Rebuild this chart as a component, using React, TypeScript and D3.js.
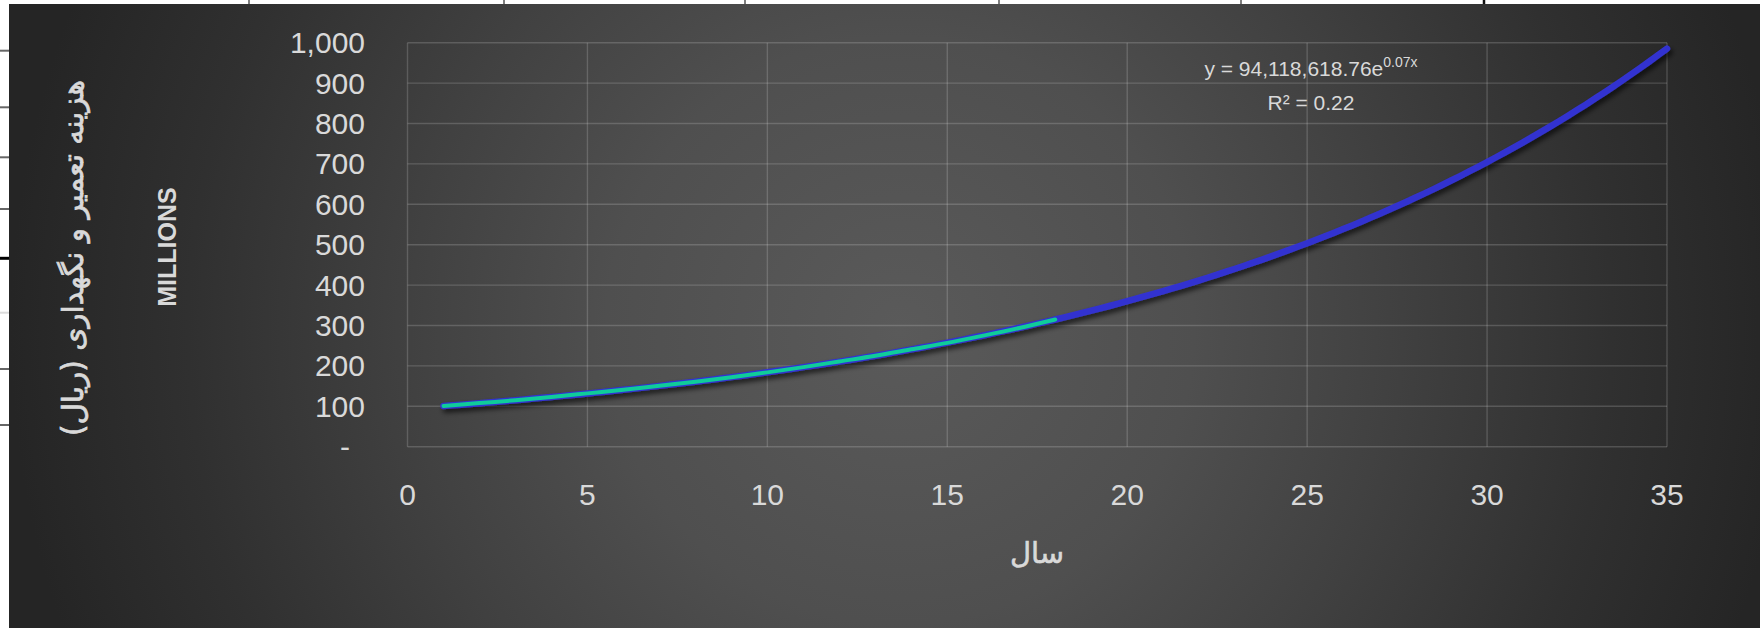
import React from "react";
import * as d3 from "d3";

// Annual repair & maintenance cost (million rials) for years 1–18
const years = [1, 2, 3, 4, 5, 6, 7, 8, 9, 10, 11, 12, 13, 14, 15, 16, 17, 18];
const repairCost = [101, 108, 115, 123, 132, 141, 151, 161, 172, 184, 197, 211, 225, 241, 257, 275, 294, 315];

// Exponential trendline y = A·e^(B·x), A in rials
const trendA = 94118618.76;
const trendB = 0.0671;
const trendR2 = 0.22;
const trendSpan = [1, 35];

const xTicks = [0, 5, 10, 15, 20, 25, 30, 35];
const yTicks = [0, 100, 200, 300, 400, 500, 600, 700, 800, 900, 1000];

const yTitle = "هزینه تعمیر و نگهداری (ریال)";
const unitLabel = "MILLIONS";
const xTitle = "سال";

const W = 1760;
const H = 628;
const frame = { x: 9, y: 4 };
const plot = { left: 407.5, right: 1667, top: 42.7, bottom: 446.7 };

// worksheet cell borders peeking out around the chart frame
const sheetCols = [249, 504, 745, 999, 1241, 1484];
const sheetRows = [50.7, 107.3, 157.3, 209, 258.3, 312.7, 369, 425];

const TEXT = "#d9d9d9";
const FONT = "'Liberation Sans', Arial, sans-serif";
const FA_FONT = "'DejaVu Sans', 'Liberation Sans', sans-serif";

export default function App() {
  const x = d3.scaleLinear().domain([0, 35]).range([plot.left, plot.right]);
  const y = d3.scaleLinear().domain([0, 1000]).range([plot.bottom, plot.top]);

  const trendPts: [number, number][] = d3
    .range(trendSpan[0], trendSpan[1] + 1e-9, 0.25)
    .map((t) => [t, (trendA * Math.exp(trendB * t)) / 1e6]);

  const line = d3
    .line<[number, number]>()
    .x((d) => x(d[0]))
    .y((d) => y(d[1]));
  const smooth = d3
    .line<[number, number]>()
    .x((d) => x(d[0]))
    .y((d) => y(d[1]))
    .curve(d3.curveCatmullRom);

  const dataPts: [number, number][] = years.map((yr, i) => [yr, repairCost[i]]);
  const fmt = d3.format(",");

  return (
    <svg
      width={W}
      height={H}
      style={{ position: "absolute", left: 0, top: 0, display: "block" }}
    >
      <defs>
        <radialGradient id="bg" gradientUnits="userSpaceOnUse" cx={900} cy={330} r={890}>
          <stop offset="0" stopColor="#5a5a5a" />
          <stop offset="0.33" stopColor="#4f4f4f" />
          <stop offset="0.55" stopColor="#414141" />
          <stop offset="0.8" stopColor="#303030" />
          <stop offset="1" stopColor="#252525" />
        </radialGradient>
        <filter id="shadow" x="-5%" y="-20%" width="110%" height="140%">
          <feDropShadow dx="2.5" dy="3.5" stdDeviation="2.6" floodColor="#000" floodOpacity="0.65" />
        </filter>
      </defs>

      <rect x={0} y={0} width={W} height={H} fill="#ffffff" />
      {sheetCols.map((cx, i) => (
        <line
          key={"c" + i}
          x1={cx}
          x2={cx}
          y1={0}
          y2={frame.y}
          stroke={i === sheetCols.length - 1 ? "#111" : "#555"}
          strokeWidth={i === sheetCols.length - 1 ? 2.5 : 1.5}
        />
      ))}
      {sheetRows.map((ry, i) => (
        <line
          key={"r" + i}
          x1={0}
          x2={frame.x}
          y1={ry}
          y2={ry}
          stroke={i === 4 ? "#000" : i === 5 ? "#dcdcdc" : "#666"}
          strokeWidth={i === 4 ? 3 : 2}
        />
      ))}

      <rect x={frame.x} y={frame.y} width={W - frame.x} height={H - frame.y} fill="url(#bg)" />

      {/* gridlines */}
      <g stroke="#ffffff" strokeOpacity={0.17} strokeWidth={1.4}>
        {yTicks.map((t) => (
          <line key={"gy" + t} x1={plot.left} x2={plot.right} y1={y(t)} y2={y(t)} />
        ))}
        {xTicks.map((t) => (
          <line key={"gx" + t} x1={x(t)} x2={x(t)} y1={plot.top} y2={plot.bottom} />
        ))}
      </g>

      {/* tick labels */}
      <g fontFamily={FONT} fontSize={30} fill={TEXT}>
        {yTicks.map((t) => (
          <text
            key={"ly" + t}
            x={t === 0 ? 350 : 365}
            y={y(t)}
            textAnchor="end"
            dominantBaseline="central"
          >
            {t === 0 ? "-" : fmt(t)}
          </text>
        ))}
        {xTicks.map((t) => (
          <text key={"lx" + t} x={x(t)} y={494} textAnchor="middle" dominantBaseline="central">
            {t}
          </text>
        ))}
      </g>

      {/* trendline and data series */}
      <path
        d={line(trendPts) || ""}
        fill="none"
        stroke="#3333d0"
        strokeWidth={6.5}
        strokeLinecap="round"
        strokeLinejoin="round"
        filter="url(#shadow)"
      />
      <path
        d={smooth(dataPts) || ""}
        fill="none"
        stroke="#0fcc9a"
        strokeWidth={4}
        strokeLinecap="round"
        strokeLinejoin="round"
      />

      {/* trendline equation */}
      <g fontFamily={FONT} fill={TEXT}>
        <text x={1311} y={76} textAnchor="middle" fontSize={21}>
          {`y = ${d3.format(",.2f")(trendA)}e`}
          <tspan fontSize={14} dy={-9.5}>{`${trendB.toFixed(2)}x`}</tspan>
        </text>
        <text x={1311} y={110} textAnchor="middle" fontSize={21}>
          {`R² = ${trendR2.toFixed(2)}`}
        </text>
      </g>

      {/* axis titles */}
      <text
        transform="translate(73,258) rotate(-90)"
        textAnchor="middle"
        dominantBaseline="central"
        direction="rtl"
        fontFamily={FA_FONT}
        fontSize={29.5}
        fill={TEXT}
        stroke={TEXT}
        strokeWidth={0.7}
      >
        {yTitle}
      </text>
      <text
        transform="translate(167,247) rotate(-90)"
        textAnchor="middle"
        dominantBaseline="central"
        fontFamily={FONT}
        fontWeight="bold"
        fontSize={25}
        fill={TEXT}
      >
        {unitLabel}
      </text>
      <text
        x={1037}
        y={553}
        textAnchor="middle"
        dominantBaseline="central"
        direction="rtl"
        fontFamily={FA_FONT}
        fontSize={29}
        fill={TEXT}
        stroke={TEXT}
        strokeWidth={0.6}
      >
        {xTitle}
      </text>
    </svg>
  );
}
